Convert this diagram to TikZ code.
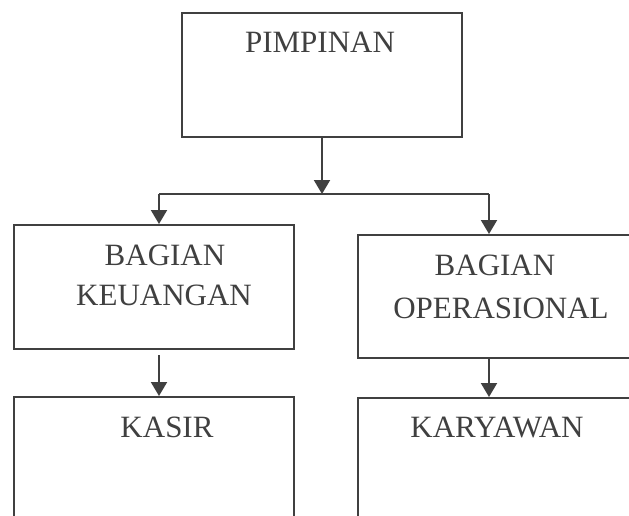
\documentclass[tikz,border=0pt]{standalone}
\usepackage{fontspec}
\setmainfont{Liberation Serif}
\usetikzlibrary{arrows.meta}
\definecolor{ink}{HTML}{404040}
\tikzset{
  box/.style={draw=ink, line width=2pt, minimum width=#1, anchor=north west, inner sep=0pt},
  lbl/.style={text=ink, font=\fontsize{31}{37}\selectfont, anchor=base, inner sep=0pt},
  conn/.style={draw=ink, line width=2pt},
  arr/.style={conn, -{Triangle[width=16pt,length=14pt]}}
}
\begin{document}
\begin{tikzpicture}[x=1pt,y=-1pt]
\useasboundingbox (0,0) rectangle (629,516);
\clip (0,0) rectangle (629,516);
\fill[white] (0,0) rectangle (629,516);
% boxes
\node[box=280pt, minimum height=124pt] (pim) at (181,12) {};
\node[box=280pt, minimum height=124pt] (keu) at (13,224) {};
\node[box=300pt, minimum height=123pt] (ops) at (357,234) {};
\node[box=280pt, minimum height=160pt] (kas) at (13,396) {};
\node[box=300pt, minimum height=160pt] (kar) at (357,397) {};
% labels
\node[lbl] (tpim) at (320,53) {PIMPINAN};
\node[lbl] (tkeu1) at (165,265) {BAGIAN};
\node[lbl] (tkeu2) at (164,305) {KEUANGAN};
\node[lbl] (tops1) at (495,275) {BAGIAN};
\node[lbl] (tops2) at (501,318) {OPERASIONAL};
\node[lbl] (tkas) at (167,437) {KASIR};
\node[lbl] (tkar) at (497,437) {KARYAWAN};
% connectors
\coordinate (hub) at (322,194);
\coordinate (hl) at (159,194);
\coordinate (hr) at (489,194);
\draw[arr] (pim.south -| hub) -- (hub);
\draw[conn] (hl) -- (hr);
\draw[arr] (hl) -- (hl |- keu.north);
\draw[arr] (hr) -- (hr |- ops.north);
\draw[arr] (hl |- 0,355) -- (hl |- kas.north);
\draw[arr] (hr |- ops.south) -- (hr |- kar.north);
\end{tikzpicture}
\end{document}
